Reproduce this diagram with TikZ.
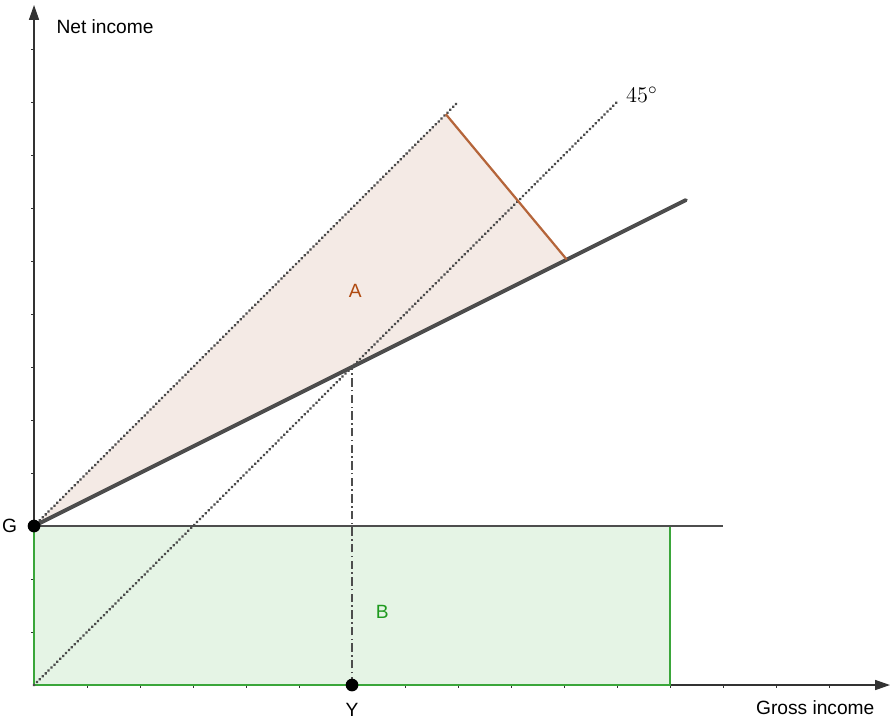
\documentclass[tikz,border=0pt]{standalone}
\usepackage{fontspec}
\setmainfont{Liberation Sans}
\usetikzlibrary{arrows.meta,positioning}
\definecolor{axisgray}{HTML}{333333}
\definecolor{linegray}{HTML}{4D4D4D}
\definecolor{areaA}{HTML}{F4EAE5}
\definecolor{edgeA}{HTML}{B5653A}
\definecolor{textA}{HTML}{B04A10}
\definecolor{areaB}{HTML}{E5F4E5}
\definecolor{edgeB}{HTML}{3AA63A}
\definecolor{textB}{HTML}{1E9A1E}

\begin{document}
\begin{tikzpicture}[
  axis/.style={-{Triangle[length=2.8mm,width=1.9mm]},line width=0.6pt,color=axisgray},
  tickmark/.style={line width=0.5pt,color=axisgray},
  guide/.style={dash pattern=on 0.01pt off 2.2pt,line cap=round,line width=1.7pt,color=linegray},
  budget/.style={line width=2.1pt,color=linegray,line cap=round},
  level/.style={line width=1.1pt,color=linegray},
  dashdot/.style={dash pattern=on 4.5pt off 1.8pt on 0.8pt off 1.8pt,line width=1.2pt,color=linegray},
  dot/.style={circle,fill=black,inner sep=0pt,minimum size=2.4mm},
  lbl/.style={font=\fontsize{10.3}{12}\selectfont}
]
\useasboundingbox (-0.642,-0.660) rectangle (16.226,12.925);
\coordinate (O) at (0,0);
\coordinate (xend) at (16.15,0);
\coordinate (yend) at (0,12.83);
\coordinate (K) at (6,6);
\coordinate (Aup) at (7.77,10.77);
\coordinate (Alow) at (10.05,8.03);
\coordinate (Bbot) at (12,0);
\coordinate (Btop) at (12,3);
\coordinate (budgetend) at (12.3,9.15);
\coordinate (levelend) at (13,3);
\coordinate (diagend) at (11,11);
\coordinate (upend) at (8,11);
\fill[areaB] (O) rectangle (Btop);
\fill[areaA] (0,3) -- (Aup) -- (Alow) -- cycle;
\draw[axis] (O) -- (xend);
\draw[axis] (O) -- (yend);
\foreach \k in {1,...,15} \draw[tickmark] (\k,0) -- (\k,-0.06);
\foreach \k in {1,...,12} \draw[tickmark] (0,\k) -- (-0.06,\k);
\draw[edgeB,line width=1.1pt] (0,3) -- (O) -- (Bbot) -- (Btop);
\draw[guide] (O) -- (diagend);
\draw[guide] (0,3) -- (upend);
\draw[level] (0,3) -- (levelend);
\draw[budget] (0,3) -- (budgetend);
\draw[edgeA,line width=1.2pt] (Aup) -- (Alow);
\draw[dashdot] (6,0) -- (K);
\node[dot] (G) at (0,3) {};
\node[dot] (Y) at (6,0) {};
\node[lbl,left=0.07cm of G] (Glabel) {G};
\node[lbl,below=0.1cm of Y] (Ylabel) {Y};
\node[font=\fontsize{12.4}{14}\selectfont] (deg) at (11.47,11.13) {$45^\circ$};
\node[lbl,text=textA] (Alabel) at (6.06,7.43) {A};
\node[lbl,text=textB] (Blabel) at (6.57,1.38) {B};
\node[lbl] (ylabel) at (1.34,12.43) {Net income};
\node[lbl] (xlabel) at (14.74,-0.43) {Gross income};
\end{tikzpicture}
\end{document}
